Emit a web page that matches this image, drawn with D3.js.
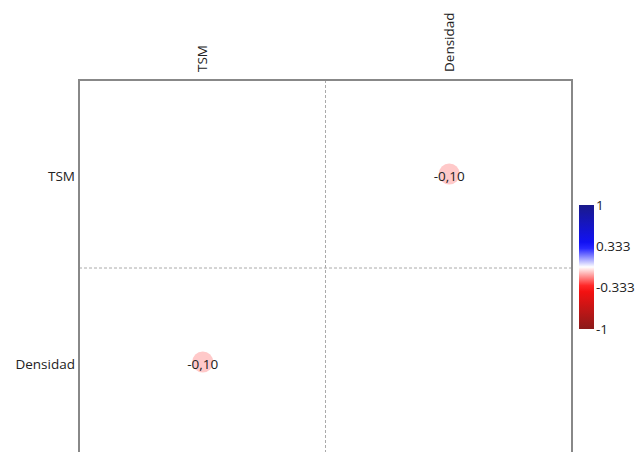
<!DOCTYPE html>
<html><head><meta charset="utf-8">
<script src="https://cdn.jsdelivr.net/npm/d3@7"></script>
<style>body{margin:0;background:#fff}svg{display:block}text{font-family:"Open Sans",sans-serif;fill:#222}</style>
</head><body><svg id="c" width="641" height="452"></svg>
<script>
const variables = ["TSM", "Densidad"];
const corrMatrix = [[1, -0.10], [-0.10, 1]];
const corrLabels = [["", "-0,10"], ["-0,10", ""]];
const legendTicks = [1, 0.333, -0.333, -1];
const legendTickLabels = ["1", "0.333", "-0.333", "-1"];

(function () {
const svg = d3.select("#c");
const pL = 79, pR = 572, pT = 80, pB = 456;
const x = d3.scaleBand().domain(variables).range([pL, pR]);
const y = d3.scaleBand().domain(variables).range([pT, pB]);
const color = d3.scaleLinear().domain([-1, -0.333, 0, 0.333, 1])
  .range(["#8b1a1a", "#ff1010", "#ffffff", "#1010ff", "#1a1a8b"]);

const g = svg.append("g");
variables.slice(1).forEach(v => {
  g.append("line").attr("x1", x(v)).attr("x2", x(v)).attr("y1", pT).attr("y2", 452)
    .attr("stroke", "#aaa").attr("stroke-dasharray", "3,2");
  g.append("line").attr("x1", pL).attr("x2", pR).attr("y1", y(v)).attr("y2", y(v))
    .attr("stroke", "#aaa").attr("stroke-dasharray", "3,2");
});
svg.append("path").attr("d", `M${pL},${pB}V${pT}H${pR}V${pB}`)
  .attr("fill", "none").attr("stroke", "#888").attr("stroke-width", 2);

const cells = [];
variables.forEach((r, i) => variables.forEach((c, j) => {
  if (corrLabels[i][j]) cells.push({r, c, v: corrMatrix[i][j], t: corrLabels[i][j]});
}));
svg.selectAll("circle.cell").data(cells).join("circle").attr("class", "cell")
  .attr("cx", d => x(d.c) + x.bandwidth() / 2 + 0.5)
  .attr("cy", d => y(d.r) + y.bandwidth() / 2)
  .attr("r", 10.5)
  .attr("fill", d => d3.interpolateRgb("#ffffff", color(d.v))(0.75));
svg.selectAll("text.cell").data(cells).join("text").attr("class", "cell")
  .attr("x", d => x(d.c) + x.bandwidth() / 2 + 0.5)
  .attr("y", d => y(d.r) + y.bandwidth() / 2 + 3)
  .attr("text-anchor", "middle").attr("dominant-baseline", "middle")
  .attr("font-size", 13.5).text(d => d.t);

svg.selectAll("text.rowlab").data(variables).join("text").attr("class", "rowlab")
  .attr("x", pL - 4).attr("y", d => y(d) + y.bandwidth() / 2 + 3)
  .attr("text-anchor", "end").attr("dominant-baseline", "middle")
  .attr("font-size", 13.5).text(d => d);
svg.selectAll("text.collab").data(variables).join("text").attr("class", "collab")
  .attr("transform", d => `translate(${x(d) + x.bandwidth() / 2 + 5},${pT - 8}) rotate(-90)`)
  .attr("text-anchor", "start").attr("font-size", 13.5).text(d => d);

const ly = d3.scaleLinear().domain([1, -1]).range([205, 329]);
const defs = svg.append("defs");
const grad = defs.append("linearGradient").attr("id", "lg").attr("x1", 0).attr("x2", 0).attr("y1", 0).attr("y2", 1);
d3.range(0, 1.0001, 0.05).forEach(t => {
  grad.append("stop").attr("offset", t).attr("stop-color", color(1 - 2 * t));
});
svg.append("rect").attr("x", 579).attr("y", ly(1)).attr("width", 15).attr("height", ly(-1) - ly(1))
  .attr("fill", "url(#lg)");
svg.selectAll("text.lt").data(legendTicks).join("text").attr("class", "lt")
  .attr("x", 596).attr("y", d => ly(d) + 1).attr("dominant-baseline", "middle")
  .attr("font-size", 13.5).text((d, i) => legendTickLabels[i]);
})();
</script></body></html>
